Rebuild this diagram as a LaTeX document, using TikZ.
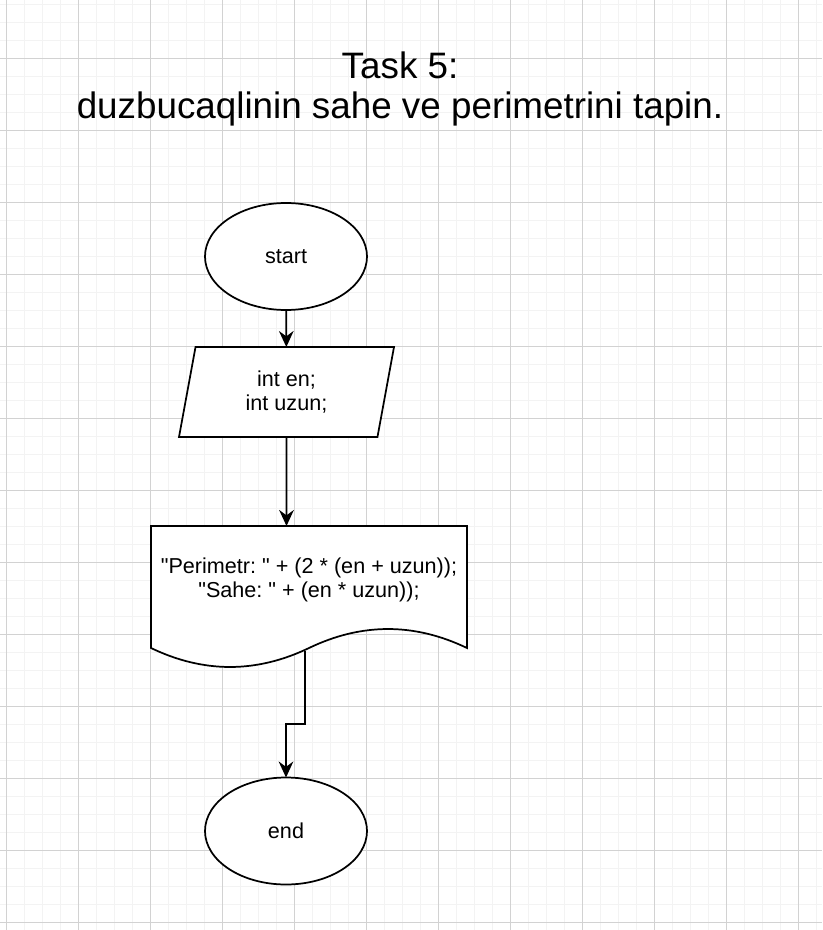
\documentclass[tikz,border=0pt]{standalone}
\usepackage{fontspec}
\setmainfont{Liberation Sans}[Ligatures=TeXOff]
\frenchspacing
\usetikzlibrary{arrows.meta}
\usetikzlibrary{shapes.geometric}

\begin{document}
\begin{tikzpicture}[x=0.75pt, y=-0.75pt,
    every node/.style={align=center, font=\fontsize{16.2}{18}\selectfont},
    minorline/.style={draw={rgb,255:red,243;green,243;blue,243}, line width=0.75pt},
    majorline/.style={draw={rgb,255:red,210;green,210;blue,210}, line width=0.75pt},
    terminal/.style={ellipse, draw, line width=1.3pt, fill=white, minimum width=121.5pt, minimum height=80.25pt, inner sep=0pt, outer sep=0pt},
    io/.style={trapezium, trapezium left angle=68.7, trapezium right angle=111.3, trapezium stretches body, draw, line width=1.3pt, fill=white, minimum width=161.25pt, minimum height=67.5pt, inner sep=0pt, outer sep=0pt},
    flow/.style={line width=1.3pt, -{Stealth[length=12pt, width=11pt, inset=4pt]}}]
    \useasboundingbox (0,0) rectangle (822,930);
    \fill[white] (0,0) rectangle (822,930);

    % Grid
    \foreach \i in {0,...,45} {
        \draw[minorline] ({6.7+18*\i},0) -- ({6.7+18*\i},930);
    }
    \foreach \j in {0,...,51} {
        \draw[minorline] (0,{4.3+18*\j}) -- (822,{4.3+18*\j});
    }
    \foreach \i in {0,...,11} {
        \draw[majorline] ({6.7+72*\i},0) -- ({6.7+72*\i},930);
    }
    \foreach \j in {0,...,13} {
        \draw[majorline] (0,{-13.7+72*\j}) -- (822,{-13.7+72*\j});
    }

    % Title
    \node[font=\fontsize{27.6}{30}\selectfont] (title) at (400,89) {Task 5:\\duzbucaqlinin sahe ve perimetrini tapin.};

    % Start and input
    \node[terminal] (start) at (286,256.5) {start};
    \node[io] (input) at (286.5,392) {int en;\\int uzun;};

    % Output document
    \draw[line width=1.3pt, fill=white] (151,526) -- (467,526) -- (467,648)
        .. controls (414.3,622.7) and (361.7,622.7) .. (309,648)
        .. controls (256.3,673.3) and (203.7,673.3) .. (151,648) -- cycle;
    \node (output) at (309,580) {"Perimetr: " + (2 * (en + uzun));\\"Sahe: " + (en * uzun));};
    \coordinate (doctop) at (286.5,526);
    \coordinate (docbot) at (305,651);
    \coordinate (elbow) at (305,724);

    % End
    \node[terminal] (stop) at (286,831) {end};

    % Arrows
    \draw[flow] (start) -- (input);
    \draw[flow] (input.south) -- (doctop);
    \draw[flow] (docbot) -- (elbow) -| (stop.north);
\end{tikzpicture}
\end{document}
